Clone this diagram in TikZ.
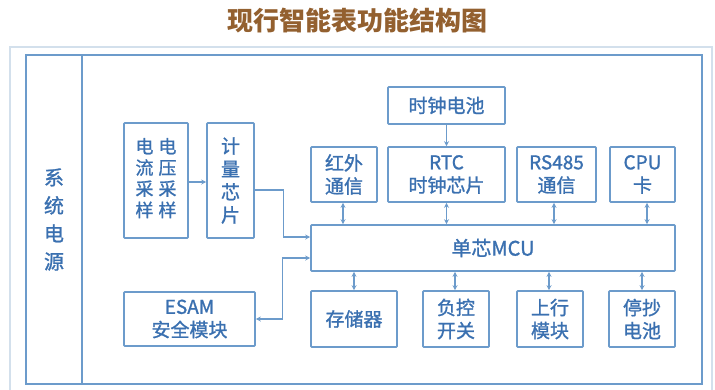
\documentclass[tikz,border=0pt]{standalone}
\usepackage{fontspec}
\setmainfont{Noto Sans CJK SC}
\newfontfamily\boxfont[FakeBold=1.2]{Noto Sans CJK SC}
\usetikzlibrary{arrows.meta}
\definecolor{bl}{HTML}{6C9BCB}
\definecolor{tx}{HTML}{3A70B0}
\definecolor{lt}{HTML}{D3E0EC}
\definecolor{br}{HTML}{93602F}
\begin{document}
\begin{tikzpicture}[x=1pt,y=-1pt,
  box/.style={draw=bl, line width=1.6pt, inner sep=0pt, text=tx, align=center,
    font=\boxfont\fontsize{19}{23}\selectfont, rounded corners=0.8pt},
  frame/.style={draw=bl, line width=1.8pt, inner sep=0pt},
  tip/.tip={Stealth[length=5pt,width=5pt]},
  link/.style={draw=bl, line width=1.3pt, -tip},
  dlink/.style={draw=bl, line width=1.3pt, tip-tip}]
\useasboundingbox (0,0) rectangle (715,389);
\fill[white] (0,0) rectangle (715,389);
\node[text=br, font=\fontsize{26}{30}\selectfont\bfseries] (title) at (357,21) {现行智能表功能结构图};
\node[draw=lt, line width=1.2pt, inner sep=0pt, minimum width=702, minimum height=345] (outer) at (361,219.5) {};
\node[frame, minimum width=56, minimum height=329] (power) at (54,219.5) {};
\node[frame, minimum width=620, minimum height=329] (board) at (392,219.5) {};
\node[text=tx, align=center, font=\boxfont\fontsize{20}{28}\selectfont] (powertext) at (power.center) {系\\统\\电\\源};
% left blocks
\node[box, minimum width=64, minimum height=115, font=\boxfont\fontsize{18}{20.5}\selectfont] (sample) at (156,180.5)
  {\begin{tabular}{@{}c@{\hspace{5pt}}c@{}}电&电\\流&压\\采&采\\样&样\end{tabular}};
\node[box, minimum width=47, minimum height=115] (meter) at (230.5,180.5) {计\\量\\芯\\片};
\node[box, minimum width=131, minimum height=54] (esam) at (189.5,319) {ESAM\\安全模块};
% top row
\node[box, minimum width=117, minimum height=37] (clkbat) at (446.5,105.5) {时钟电池};
\node[box, minimum width=66, minimum height=55] (ir) at (344,174.5) {红外\\通信};
\node[box, minimum width=117, minimum height=55] (rtc) at (446.5,174.5) {RTC\\时钟芯片};
\node[box, minimum width=79, minimum height=55] (rs) at (556.5,174.5) {RS485\\通信};
\node[box, minimum width=65, minimum height=55] (cpu) at (642.5,174.5) {CPU\\卡};
% MCU
\node[box, minimum width=364, minimum height=46, font=\boxfont\fontsize{20}{24}\selectfont] (mcu) at (493,248) {单芯MCU};
% bottom row
\node[box, minimum width=86, minimum height=56] (mem) at (354,319) {存储器};
\node[box, minimum width=66, minimum height=56] (load) at (456,319) {负控\\开关};
\node[box, minimum width=66, minimum height=56] (up) at (550,319) {上行\\模块};
\node[box, minimum width=66, minimum height=56] (bat) at (642,319) {停抄\\电池};
% connectors
\draw[link] ([yshift=-1.5pt]sample.east) -- ([yshift=-1.5pt]meter.west);
\draw[link] ([yshift=-9.5pt]meter.east) -- ++(29pt,0) |- ([yshift=11pt]mcu.west);
\draw[dlink] ([yshift=-10pt]mcu.west) -- ++(-28pt,0) |- (esam.east);
\draw[link] (clkbat) -- (rtc);
\draw[dlink] ([xshift=-1pt]ir.south) -- ([xshift=-1pt]ir.south |- mcu.north);
\draw[dlink] (rtc.south) -- (rtc.south |- mcu.north);
\draw[dlink] ([xshift=-2.5pt]rs.south) -- ([xshift=-2.5pt]rs.south |- mcu.north);
\draw[dlink] ([xshift=4.5pt]cpu.south) -- ([xshift=4.5pt]cpu.south |- mcu.north);
\draw[dlink] (mem.north) -- (mem.north |- mcu.south);
\draw[dlink] ([xshift=-1pt]load.north) -- ([xshift=-1pt]load.north |- mcu.south);
\draw[dlink] ([xshift=-1pt]up.north) -- ([xshift=-1pt]up.north |- mcu.south);
\draw[dlink] (bat.north) -- (bat.north |- mcu.south);
\end{tikzpicture}
\end{document}
